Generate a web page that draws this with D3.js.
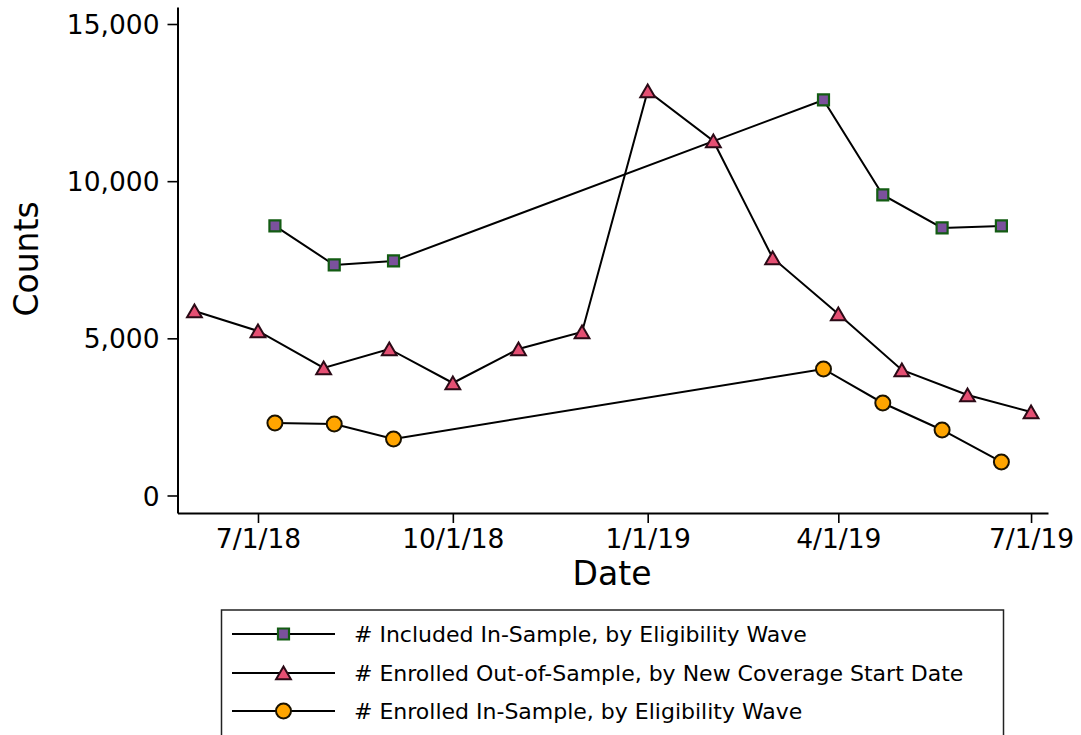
<!DOCTYPE html>
<html><head><meta charset="utf-8">
<script src="https://cdn.jsdelivr.net/npm/d3@7"></script>
<style>body{margin:0;background:#fff}svg{display:block;font-family:"DejaVu Sans",sans-serif}</style>
</head><body>
<svg id="c" width="1081" height="735"></svg>
<script>
const monthlyDates = ["2018-06-01","2018-07-01","2018-08-01","2018-09-01","2018-10-01","2018-11-01","2018-12-01","2019-01-01","2019-02-01","2019-03-01","2019-04-01","2019-05-01","2019-06-01","2019-07-01"];
const enrolledOutOfSample = [5870,5234,4057,4661,3579,4661,5202,12870,11279,7557,5775,3993,3198,2657];
const waveDates = ["2018-07-09","2018-08-06","2018-09-03","2019-03-25","2019-04-22","2019-05-20","2019-06-17"];
const includedInSample = [8575,7334,7461,12584,9561,8511,8575];
const enrolledInSample = [2307,2275,1798,4025,2943,2084,1066];
const xTickDates = ["2018-07-01","2018-10-01","2019-01-01","2019-04-01","2019-07-01"];
const yTicks = [0,5000,10000,15000];
const legendLabels = ["# Included In-Sample, by Eligibility Wave","# Enrolled Out-of-Sample, by New Coverage Start Date","# Enrolled In-Sample, by Eligibility Wave"];

const parse = d3.timeParse("%Y-%m-%d");
const svg = d3.select("#c");
const x = d3.scaleTime().domain([parse("2018-05-24"), parse("2019-07-09")]).range([177.5, 1048]);
const y = d3.scaleLinear().domain([-557, 15541]).range([513, 7]);

// axes
const xAxis = svg.append("g").attr("transform","translate(0,513)")
  .call(d3.axisBottom(x).tickValues(xTickDates.map(parse)).tickFormat(d3.timeFormat("%-m/%-d/%y")).tickSize(10).tickSizeOuter(0).tickPadding(6));
const yAxis = svg.append("g").attr("transform","translate(177.5,0)")
  .call(d3.axisLeft(y).tickValues(yTicks).tickFormat(d3.format(",")).tickSize(10).tickSizeOuter(0).tickPadding(8));
[xAxis,yAxis].forEach(g=>{
  g.selectAll("path.domain").attr("stroke","#000").attr("stroke-width",2);
  g.selectAll(".tick line").attr("stroke","#000").attr("stroke-width",1.6);
  g.selectAll("text").attr("fill","#000").attr("font-size",26.5).attr("font-family","DejaVu Sans");
});
xAxis.selectAll("text").attr("dy","0.72em");
yAxis.selectAll("text").attr("dy","0.36em");

svg.append("text").attr("x",612).attr("y",585).attr("text-anchor","middle").attr("font-size",33).text("Date");
svg.append("text").attr("transform","translate(38,259) rotate(-90)").attr("text-anchor","middle").attr("font-size",33).text("Counts");

const line = d3.line().x(d=>x(d[0])).y(d=>y(d[1]));
const sq = d3.symbol().type(d3.symbolSquare).size(121);
const tri = d3.symbol().type(d3.symbolTriangle).size(95);
const styles = [
  {fill:"#7b519c", stroke:"#135c13", sym:sq, sw:2.2},
  {fill:"#e54f73", stroke:"#2b0a16", sym:tri, sw:2},
  {fill:"#ffa500", stroke:"#1a1200", sym:null, sw:2}
];
const series = [
  waveDates.map((d,i)=>[parse(d),includedInSample[i]]),
  monthlyDates.map((d,i)=>[parse(d),enrolledOutOfSample[i]]),
  waveDates.map((d,i)=>[parse(d),enrolledInSample[i]])
];
series.forEach(s=>{
  svg.append("path").datum(s).attr("d",line).attr("fill","none").attr("stroke","#000").attr("stroke-width",2);
});
function marker(g, st, cx, cy){
  if(st.sym){
    const dy = st.sym===tri ? 2 : 0;
    g.append("path").attr("d",st.sym()).attr("transform",`translate(${cx},${cy+dy})`)
      .attr("fill",st.fill).attr("stroke",st.stroke).attr("stroke-width",st.sw);
  } else {
    g.append("circle").attr("cx",cx).attr("cy",cy).attr("r",7.5)
      .attr("fill",st.fill).attr("stroke",st.stroke).attr("stroke-width",st.sw);
  }
}
series.forEach((s,k)=>{
  const g = svg.append("g");
  s.forEach(d=>marker(g, styles[k], x(d[0]), y(d[1])));
});

// legend
const lg = svg.append("g");
lg.append("rect").attr("x",221.5).attr("y",610).attr("width",782).attr("height",140)
  .attr("fill","#fff").attr("stroke","#222").attr("stroke-width",1.5);
const rowsY = [634,673,711];
legendLabels.forEach((t,i)=>{
  lg.append("line").attr("x1",232).attr("x2",335).attr("y1",rowsY[i]).attr("y2",rowsY[i]).attr("stroke","#000").attr("stroke-width",2);
  marker(lg, styles[i], 283.5, rowsY[i]);
  lg.append("text").attr("x",354).attr("y",rowsY[i]).attr("dy","0.36em").attr("font-size",22).attr("fill","#000").text(t);
});
</script>
</body></html>
